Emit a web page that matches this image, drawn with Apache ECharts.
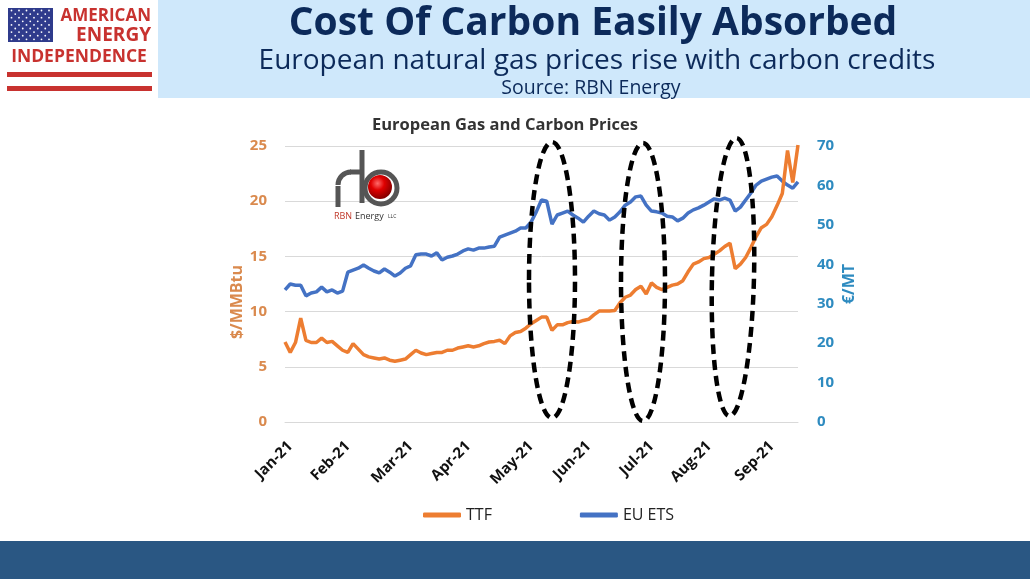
<!DOCTYPE html>
<html>
<head>
<meta charset="utf-8">
<script src="https://cdn.jsdelivr.net/npm/echarts@6/dist/echarts.min.js"></script>
<style>
html,body{margin:0;padding:0;background:#fff;}
#c{width:1030px;height:579px;}
</style>
</head>
<body>
<div id="c"></div>
<script>
// ---- data ----
const monthLabels = ['Jan-21','Feb-21','Mar-21','Apr-21','May-21','Jun-21','Jul-21','Aug-21','Sep-21'];
const monthIdx = [1,12,24,35,47,58,70,81,93];
const leftTicks = [0,5,10,15,20,25];
const rightTicks = [0,10,20,30,40,50,60,70];
const ttf = [7.25,6.3,7.2,9.4,7.4,7.2,7.2,7.6,7.2,7.3,
  6.9,6.5,6.3,7.1,6.6,6.1,5.9,5.8,5.7,5.8,
  5.6,5.5,5.6,5.7,6.1,6.5,6.25,6.1,6.2,6.3,
  6.3,6.5,6.5,6.7,6.8,6.9,6.8,6.9,7.1,7.25,
  7.3,7.4,7.1,7.8,8.1,8.2,8.5,8.9,9.2,9.5,
  9.5,8.3,8.8,8.8,9.0,9.1,9.05,9.2,9.3,9.7,
  10.05,10.05,10.05,10.1,10.8,11.3,11.5,12.0,12.3,11.6,
  12.6,12.2,12.0,12.2,12.4,12.5,12.8,13.6,14.3,14.5,
  14.8,14.9,15.2,15.5,15.9,16.2,13.9,14.3,14.9,15.8,
  16.8,17.6,17.9,18.6,19.6,20.7,24.6,21.7,25.1];
const ets = [33.5,35.0,34.7,34.7,32.0,32.7,33.0,34.2,33.0,33.5,
  32.7,33.2,38.0,38.5,39.0,39.8,39.0,38.3,37.8,38.8,
  38.0,37.0,37.8,39.0,39.6,42.4,42.6,42.6,42.1,42.9,
  41.1,41.8,42.1,42.6,43.4,43.9,43.6,44.1,44.1,44.4,
  44.6,46.9,47.4,47.9,48.4,49.2,49.2,50.7,53.3,56.3,
  56.0,50.2,52.5,53.0,53.5,52.5,51.7,50.7,52.2,53.5,
  52.8,52.5,51.2,52.0,53.3,55.0,55.8,57.1,57.3,55.0,
  53.5,53.3,53.0,52.2,52.0,51.0,51.7,53.0,53.8,54.3,
  55.0,55.8,56.6,56.3,56.8,56.3,53.5,54.5,56.3,58.1,
  60.1,61.1,61.6,62.1,62.4,61.1,60.1,59.3,60.9];
const categories = ttf.map((_, i) => String(i));

const FONT = "'Open Sans', 'DejaVu Sans', sans-serif";
const NAVY = '#0c2a5a';
const RED = '#c8322f';

// decorative header elements
const graphics = [];
graphics.push({type:'rect', shape:{x:158,y:0,width:872,height:98}, style:{fill:'#cfe8fb'}, z:0});
graphics.push({type:'rect', shape:{x:0,y:541,width:1030,height:38}, style:{fill:'#2a5783'}, z:0});
// flag canton
graphics.push({type:'rect', shape:{x:8,y:8,width:45,height:34}, style:{fill:'#2f3b8c'}, z:1});
for (let r = 0; r < 9; r++) {
  const n = r % 2 === 0 ? 6 : 5;
  for (let c = 0; c < n; c++) {
    graphics.push({type:'circle', shape:{cx: 11.5 + c*7.5 + (r%2 ? 3.75 : 0), cy: 10.5 + r*3.6, r:0.9}, style:{fill:'#ffffff'}, z:2});
  }
}
graphics.push({type:'rect', shape:{x:7,y:72,width:145,height:5}, style:{fill:RED}, z:1});
graphics.push({type:'rect', shape:{x:7,y:86,width:145,height:5}, style:{fill:RED}, z:1});
graphics.push({type:'text', x:151, y:16, style:{text:'AMERICAN', fill:RED, font:"bold 17px "+FONT, textAlign:'right', textVerticalAlign:'middle'}, z:2});
graphics.push({type:'text', x:151, y:36, style:{text:'ENERGY', fill:RED, font:"bold 19px "+FONT, textAlign:'right', textVerticalAlign:'middle'}, z:2});
graphics.push({type:'text', x:79, y:57, style:{text:'INDEPENDENCE', fill:RED, font:"bold 17.5px "+FONT, textAlign:'center', textVerticalAlign:'middle'}, z:2});
// titles
graphics.push({type:'text', x:593, y:24, style:{text:'Cost Of Carbon Easily Absorbed', fill:NAVY, font:"bold 39px "+FONT, textAlign:'center', textVerticalAlign:'middle'}, z:2});
graphics.push({type:'text', x:597, y:61, style:{text:'European natural gas prices rise with carbon credits', fill:NAVY, font:"28px "+FONT, textAlign:'center', textVerticalAlign:'middle'}, z:2});
graphics.push({type:'text', x:591, y:88, style:{text:'Source: RBN Energy', fill:NAVY, font:"19.5px "+FONT, textAlign:'center', textVerticalAlign:'middle'}, z:2});
graphics.push({type:'text', x:505, y:125, style:{text:'European Gas and Carbon Prices', fill:'#333', font:"bold 16.5px "+FONT, textAlign:'center', textVerticalAlign:'middle'}, z:2});
// RBN logo
graphics.push({type:'line', shape:{x1:362,y1:150,x2:362,y2:203}, style:{stroke:'#555',lineWidth:5}, z:3});
graphics.push({type:'line', shape:{x1:338,y1:186,x2:338,y2:207}, style:{stroke:'#555',lineWidth:5}, z:3});
graphics.push({type:'arc', shape:{cx:351,cy:185,r:13,startAngle:Math.PI,endAngle:Math.PI*1.5}, style:{stroke:'#555',lineWidth:5,fill:null}, z:3});
graphics.push({type:'line', shape:{x1:350,y1:172,x2:362,y2:172}, style:{stroke:'#555',lineWidth:5}, z:3});
graphics.push({type:'circle', shape:{cx:381,cy:188,r:16}, style:{stroke:'#555',lineWidth:5,fill:null}, z:3});
graphics.push({type:'circle', shape:{cx:380,cy:187,r:12}, style:{fill:{type:'radial',x:0.4,y:0.35,r:0.7,colorStops:[{offset:0,color:'#ff6a6a'},{offset:0.4,color:'#e00000'},{offset:1,color:'#7a0000'}]}}, z:4});
graphics.push({type:'text', x:334, y:216, style:{text:'RBN', fill:'#c0392b', font:"9px "+FONT, textVerticalAlign:'middle'}, z:3});
graphics.push({type:'text', x:355, y:216, style:{text:'Energy', fill:'#333', font:"9px "+FONT, textVerticalAlign:'middle'}, z:3});
graphics.push({type:'text', x:388, y:217, style:{text:'LLC', fill:'#333', font:"5px "+FONT, textVerticalAlign:'middle'}, z:3});
// axis titles
graphics.push({type:'text', x:237, y:302, rotation:Math.PI/2, style:{text:'$/MMBtu', fill:'#DA8A4E', font:"bold 16px "+FONT, textAlign:'center', textVerticalAlign:'middle'}, z:3});
graphics.push({type:'text', x:849, y:284, rotation:Math.PI/2, style:{text:'€/MT', fill:'#2E8BC0', font:"bold 16px "+FONT, textAlign:'center', textVerticalAlign:'middle'}, z:3});
// dashed annotation ellipses
[[552,280,23,138,0],[643,282,22,139,0],[733,277,21,139,-0.025]].forEach(e => {
  graphics.push({type:'ellipse', x:e[0], y:e[1], rotation:e[4], shape:{cx:0,cy:0,rx:e[2],ry:e[3]},
    style:{stroke:'#000', lineWidth:4.5, lineDash:[10,6], fill:null}, z:20});
});

const chart = echarts.init(document.getElementById('c'), null, {renderer:'canvas'});
chart.setOption({
  backgroundColor:'#ffffff',
  animation:false,
  grid:{left:285, right:232, top:146, bottom:157, containLabel:false},
  legend:{
    data:['TTF','EU ETS'], left:418, top:502, icon:'roundRect', itemWidth:38, itemHeight:5, itemGap:88,
    textStyle:{fontSize:16, color:'#222', fontFamily:FONT}
  },
  xAxis:{
    type:'category', data:categories, boundaryGap:false,
    axisLine:{show:true, lineStyle:{color:'#d9d9d9', width:1}},
    axisTick:{show:false},
    splitLine:{show:false},
    axisLabel:{
      interval:(i) => monthIdx.indexOf(i) >= 0,
      formatter:(v, i) => { const k = monthIdx.indexOf(i); return k >= 0 ? monthLabels[k] : ''; },
      rotate:45, margin:22, color:'#111', fontWeight:'bold', fontSize:15, fontFamily:FONT
    }
  },
  yAxis:[
    {type:'value', min:leftTicks[0], max:leftTicks[leftTicks.length-1], interval:5,
     axisLine:{show:false}, axisTick:{show:false},
     splitLine:{show:true, lineStyle:{color:'#d9d9d9', width:1}},
     axisLabel:{color:'#DA8A4E', fontWeight:'bold', fontSize:15, margin:18, fontFamily:FONT}},
    {type:'value', min:rightTicks[0], max:rightTicks[rightTicks.length-1], interval:10,
     axisLine:{show:false}, axisTick:{show:false},
     splitLine:{show:false},
     axisLabel:{color:'#2E8BC0', fontWeight:'bold', fontSize:15, margin:19, fontFamily:FONT}}
  ],
  series:[
    {name:'EU ETS', type:'line', yAxisIndex:1, data:ets, showSymbol:false, smooth:false,
     lineStyle:{color:'#4472C4', width:3.5}, itemStyle:{color:'#4472C4'}, z:2},
    {name:'TTF', type:'line', yAxisIndex:0, data:ttf, showSymbol:false, smooth:false,
     lineStyle:{color:'#ED7D31', width:3.5}, itemStyle:{color:'#ED7D31'}, z:3}
  ],
  graphic:{elements:graphics}
});
</script>
</body>
</html>
